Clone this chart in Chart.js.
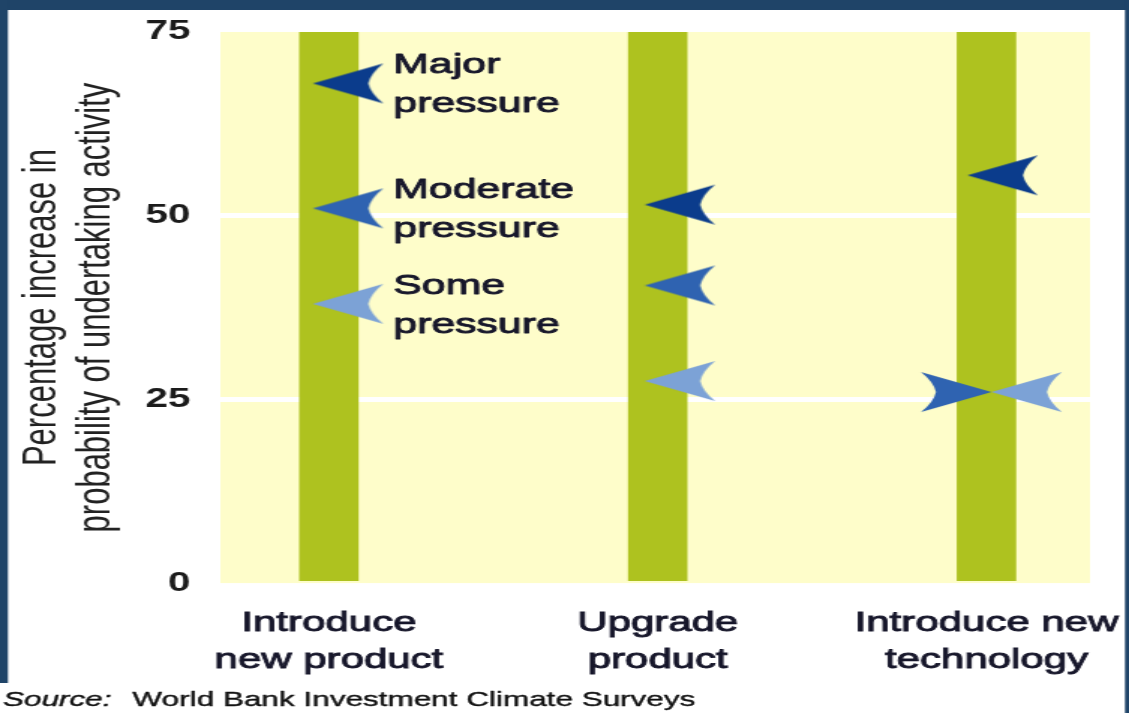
<!DOCTYPE html>
<html>
<head>
<meta charset="utf-8">
<script src="https://cdn.jsdelivr.net/npm/chart.js@4.4.1/dist/chart.umd.min.js"></script>
<style>
  html, body { margin: 0; padding: 0; background: #ffffff; overflow: hidden; }
  /* the source picture is stretched sideways, so the chart is drawn narrow and widened */
  #wrap { position: absolute; left: 0; top: 0; width: 753px; height: 713px; transform: scaleX(1.49934); transform-origin: 0 0; }
</style>
</head>
<body>
<div id="wrap"><canvas id="chart"></canvas></div>
<script>
// data
const categories = [['Introduce', 'new product'], ['Upgrade', 'product'], ['Introduce new', 'technology']];
const categoryPos = [1, 2, 3];
const bandTop = [75, 75, 75];
const majorPressure = [68, 51.5, 55.5];
const moderatePressure = [51, 40.5, 26];
const somePressure = [38, 27.5, 26];
const yTicks = [0, 25, 50, 75];
const yTitle = ['Percentage increase in', 'probability of undertaking activity'];
const sourceNote = ['Source:', 'World Bank Investment Climate Surveys'];

const FONT = '"Liberation Sans", Arial, Helvetica, sans-serif';
const INK = '#16162a';

// arrowhead marker; dir 1 points left, -1 points right; shift moves the tip off the point
function arrowHead(color, dir, shift) {
    const c = document.createElement('canvas');
    c.width = 140;
    c.height = 46;
    const g = c.getContext('2d');
    const len = 47, half = 20, notch = 37;
    g.translate(70 + shift, 23);
    g.scale(dir, 1);
    g.beginPath();
    g.moveTo(0, 0);
    g.lineTo(len, -half);
    g.quadraticCurveTo(notch + 1.5, -half * 0.5, notch, 0);
    g.quadraticCurveTo(notch + 1.5, half * 0.5, len, half);
    g.closePath();
    g.fillStyle = color;
    g.fill();
    return c;
}

const majorStyle = [arrowHead('#0b3c8c', 1, -10.7), arrowHead('#0b3c8c', 1, -8.7), arrowHead('#0b3c8c', 1, -12.7)];
const moderateStyle = [arrowHead('#2f63b1', 1, -10.7), arrowHead('#2f63b1', 1, -8.7), arrowHead('#2f63b1', -1, 3.3)];
const someStyle = [arrowHead('#7ca2d6', 1, -10.7), arrowHead('#7ca2d6', 1, -8.7), arrowHead('#7ca2d6', 1, 3.3)];

function points(values) {
    return categoryPos.map((x, i) => ({ x: x, y: values[i] }));
}

function markerSet(label, lines, values, styles) {
    return {
        type: 'line',
        label: label,
        lines: lines,
        data: points(values),
        showLine: false,
        pointStyle: styles,
        pointRadius: 6,
        order: 0
    };
}

const plotBackground = {
    id: 'plotBackground',
    beforeDraw(chart) {
        const { ctx, chartArea: a, width, height } = chart;
        ctx.save();
        ctx.fillStyle = '#fefdca';
        ctx.fillRect(a.left, a.top, a.right - a.left, a.bottom - a.top);
        // navy frame
        ctx.fillStyle = '#1f4468';
        ctx.fillRect(0, 0, width, 10);
        ctx.fillRect(0, 0, 5.3, 683);
        ctx.fillRect(width - 2.7, 0, 2.7, height);
        ctx.restore();
    }
};

function heavyText(ctx, text, x, y, stroke) {
    ctx.lineWidth = stroke;
    ctx.strokeText(text, x, y);
    ctx.fillText(text, x, y);
}

const pressureLabels = {
    id: 'pressureLabels',
    afterDatasetsDraw(chart) {
        const ctx = chart.ctx;
        ctx.save();
        ctx.font = '28.5px ' + FONT;
        ctx.fillStyle = INK;
        ctx.strokeStyle = INK;
        ctx.lineJoin = 'round';
        ctx.textBaseline = 'middle';
        ctx.textAlign = 'left';
        chart.data.datasets.forEach((ds, i) => {
            if (!ds.lines) return;
            const pt = chart.getDatasetMeta(i).data[0];
            heavyText(ctx, ds.lines[0], pt.x + 43, pt.y - 18, 0.9);
            heavyText(ctx, ds.lines[1], pt.x + 43, pt.y + 21, 0.9);
        });
        // source line
        ctx.fillStyle = '#111111';
        ctx.strokeStyle = '#111111';
        ctx.font = 'italic 21px ' + FONT;
        heavyText(ctx, sourceNote[0], 2, 700, 0.4);
        const w = ctx.measureText(sourceNote[0]).width;
        ctx.font = '21px ' + FONT;
        heavyText(ctx, sourceNote[1], 2 + w + 14, 700, 0.4);
        ctx.restore();
    }
};

new Chart(document.getElementById('chart'), {
    type: 'bar',
    data: {
        datasets: [
            {
                type: 'bar',
                label: 'Activity',
                data: points(bandTop),
                backgroundColor: '#aec21f',
                barThickness: 39,
                order: 10
            },
            markerSet('Major pressure', ['Major', 'pressure'], majorPressure, majorStyle),
            markerSet('Moderate pressure', ['Moderate', 'pressure'], moderatePressure, moderateStyle),
            markerSet('Some pressure', ['Some', 'pressure'], somePressure, someStyle)
        ]
    },
    options: {
        responsive: true,
        maintainAspectRatio: false,
        animation: false,
        devicePixelRatio: 1,
        layout: { padding: { left: 5, top: 32, right: 26, bottom: 20 } },
        plugins: {
            legend: { display: false },
            tooltip: { enabled: false }
        },
        scales: {
            x: {
                type: 'linear',
                offset: false,
                min: 0.67,
                max: 3.315,
                grid: { display: false },
                border: { display: false },
                afterBuildTicks: (s) => { s.ticks = categoryPos.map(v => ({ value: v })); },
                afterFit: (s) => { s.paddingLeft = 0; s.paddingRight = 0; },
                ticks: {
                    maxRotation: 0,
                    autoSkip: false,
                    padding: 14,
                    color: INK,
                    textStrokeColor: INK,
                    textStrokeWidth: 0.9,
                    font: { family: FONT, size: 28, lineHeight: 1.32 },
                    callback: (value) => categories[categoryPos.indexOf(value)]
                }
            },
            y: {
                min: 0,
                max: 75,
                border: { display: false },
                grid: {
                    drawTicks: false,
                    lineWidth: 5,
                    color: (c) => (c.tick && (c.tick.value === 25 || c.tick.value === 50)) ? '#ffffff' : 'rgba(0,0,0,0)'
                },
                afterBuildTicks: (s) => { s.ticks = yTicks.map(v => ({ value: v })); },
                afterFit: (s) => { s.width = 142; s.paddingTop = 0; s.paddingBottom = 0; },
                ticks: {
                    padding: 20,
                    color: '#1b1b1b',
                    font: { family: FONT, size: 27, weight: 'bold' }
                },
                title: {
                    display: true,
                    text: yTitle,
                    color: '#222222',
                    padding: { top: 5, bottom: 0 },
                    font: { family: FONT, size: 31, lineHeight: 1.18 }
                }
            }
        }
    },
    plugins: [plotBackground, pressureLabels]
});
</script>
</body>
</html>
